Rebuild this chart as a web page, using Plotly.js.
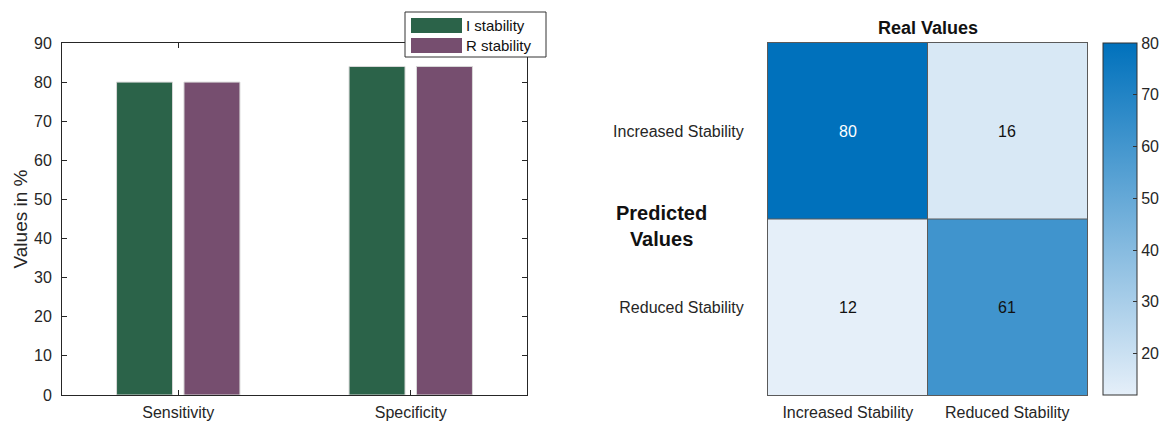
<!DOCTYPE html>
<html>
<head>
<meta charset="utf-8">
<script src="https://cdn.plot.ly/plotly-3.0.1.min.js"></script>
<style>html,body{margin:0;padding:0;background:#fff;overflow:hidden;}#chart{width:1159px;height:423px;overflow:hidden;}</style>
</head>
<body>
<div id="chart"></div>
<script>
// Bar chart data
const metrics = ["Sensitivity", "Specificity"];
const seriesNames = ["I stability", "R stability"];
const iStability = [80, 84];
const rStability = [80, 84];
const seriesColors = ["#2b6349", "#764e6f"];

// Confusion matrix data
const classLabels = ["Increased Stability", "Reduced Stability"];
const matrix = [
  [80, 16],
  [12, 61]
];
const colorbarTicks = [20, 30, 40, 50, 60, 70, 80];

const W = 1159, H = 423;
const px = x => x / W;
const py = y => 1 - y / H;

const FONT = "Liberation Sans, Arial, sans-serif";
const TXT = "#262626";

const barTraces = [iStability, rStability].map((vals, i) => ({
  type: "bar",
  x: metrics,
  y: vals,
  name: seriesNames[i],
  marker: { color: seriesColors[i], line: { color: "#d8d8d8", width: 1 } },
  xaxis: "x", yaxis: "y",
  showlegend: false,
  hoverinfo: "x+y+name"
}));

const zMin = Math.min(...matrix.flat());
const zMax = Math.max(...matrix.flat());

const heat = {
  type: "heatmap",
  x: classLabels,
  y: classLabels,
  z: matrix,
  zmin: zMin,
  zmax: zMax,
  xaxis: "x2", yaxis: "y2",
  colorscale: [[0, "#e5eff9"], [1, "#0071bc"]],
  colorbar: {
    x: px(1103), xanchor: "left",
    y: py(219), yanchor: "middle",
    len: 352, lenmode: "pixels",
    thickness: 34, thicknessmode: "pixels",
    outlinewidth: 1, outlinecolor: "#333",
    tickvals: colorbarTicks,
    ticks: "inside", ticklen: 4, tickcolor: "#333",
    tickfont: { family: FONT, size: 16, color: TXT },
    xpad: 0, ypad: 0
  },
  hoverinfo: "x+y+z"
};

const annotations = [];
// cell values
matrix.forEach((row, r) => row.forEach((v, c) => {
  annotations.push({
    x: classLabels[c], y: classLabels[r], xref: "x2", yref: "y2",
    text: String(v), showarrow: false,
    font: { family: FONT, size: 16, color: v > 70 ? "#ffffff" : "#111111" }
  });
}));
annotations.push({
  x: 0.5, xref: "x2 domain", y: py(28), yref: "paper", yanchor: "middle",
  text: "<b>Real Values</b>", showarrow: false,
  font: { family: FONT, size: 18, color: "#111" }
});
annotations.push({
  x: px(662), xref: "paper", y: py(226), yref: "paper", yanchor: "middle",
  text: "<b>Predicted<br>Values</b>", showarrow: false, align: "center",
  font: { family: FONT, size: 20, color: "#111" }
});

// custom legend with wide swatches
const shapes = [];
const legTop = 12, legLeft = 405, legRight = 546, legBottom = 57;
shapes.push({ type: "rect", xref: "paper", yref: "paper",
  x0: px(legLeft), x1: px(legRight), y0: py(legBottom), y1: py(legTop),
  line: { color: "#333", width: 1 }, fillcolor: "#ffffff", layer: "above" });
seriesNames.forEach((name, i) => {
  const top = 18 + i * 20;
  shapes.push({ type: "rect", xref: "paper", yref: "paper",
    x0: px(411), x1: px(462), y0: py(top + 15), y1: py(top),
    line: { width: 0 }, fillcolor: seriesColors[i], layer: "above" });
  annotations.push({ x: px(464), y: py(top + 7.5), xref: "paper", yref: "paper",
    xanchor: "left", yanchor: "middle", text: name, showarrow: false,
    font: { family: FONT, size: 15, color: "#111" } });
});

// internal cell borders of the matrix
shapes.push({ type: "line", xref: "x2", yref: "y2 domain", x0: 0.5, x1: 0.5, y0: 0, y1: 1,
  line: { color: "#5a5a5a", width: 1 } });
shapes.push({ type: "line", xref: "x2 domain", yref: "y2", x0: 0, x1: 1, y0: 0.5, y1: 0.5,
  line: { color: "#5a5a5a", width: 1 } });

const layout = {
  width: W, height: H,
  margin: { l: 0, r: 0, t: 0, b: 0, autoexpand: false },
  paper_bgcolor: "#ffffff",
  plot_bgcolor: "rgba(0,0,0,0)",
  font: { family: FONT, color: TXT },
  bargap: 0.42,
  bargroupgap: 0.17,
  xaxis: {
    domain: [px(62), px(527)],
    range: [-0.5, 1.5],
    showline: true, mirror: "ticks", linecolor: "#262626", linewidth: 1,
    ticks: "inside", ticklen: 5, tickcolor: "#262626",
    tickfont: { family: FONT, size: 16, color: TXT },
    ticklabelstandoff: 3,
    automargin: false, fixedrange: true
  },
  yaxis: {
    domain: [py(395), py(43)],
    range: [0, 90],
    tickvals: [0, 10, 20, 30, 40, 50, 60, 70, 80, 90],
    showline: true, mirror: "ticks", linecolor: "#262626", linewidth: 1,
    ticks: "inside", ticklen: 5, tickcolor: "#262626",
    showgrid: false, zeroline: false,
    tickfont: { family: FONT, size: 16, color: TXT },
    ticklabelstandoff: 6,
    title: { text: "Values in %", font: { family: FONT, size: 19, color: TXT }, standoff: 1 },
    automargin: false, fixedrange: true
  },
  xaxis2: {
    anchor: "y2",
    domain: [px(768), px(1087)],
    showline: true, mirror: true, linecolor: "#5a5a5a", linewidth: 1,
    ticks: "", showgrid: false, zeroline: false,
    tickfont: { family: FONT, size: 16, color: TXT },
    ticklabelstandoff: 3,
    automargin: false, fixedrange: true
  },
  yaxis2: {
    anchor: "x2",
    domain: [py(395), py(43)],
    autorange: "reversed",
    showline: true, mirror: true, linecolor: "#5a5a5a", linewidth: 1,
    ticks: "", showgrid: false, zeroline: false,
    tickfont: { family: FONT, size: 16, color: TXT },
    ticklabelstandoff: 20,
    automargin: false, fixedrange: true
  },
  shapes: shapes,
  annotations: annotations,
  showlegend: false
};

Plotly.newPlot("chart", [...barTraces, heat], layout, { displayModeBar: false, staticPlot: true });
</script>
</body>
</html>
